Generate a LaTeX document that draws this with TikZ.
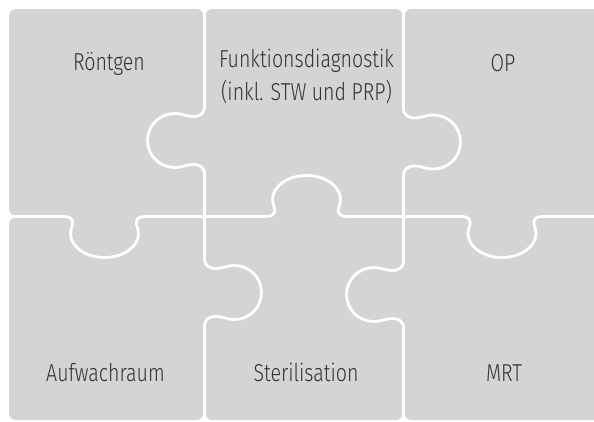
\documentclass[tikz,border=0pt]{standalone}
\usepackage{fontspec}
\IfFontExistsTF{Fira Sans Light}
  {\setmainfont{Fira Sans Light}[FakeStretch=0.8]}
  {\setmainfont{Fira Sans}[FakeStretch=0.8]}
\definecolor{piecegray}{RGB}{211,212,214}
\definecolor{textgray}{RGB}{50,50,53}
\tikzset{
  cut/.style={draw=white, line width=2.8pt, line cap=round, line join=round},
  piecetext/.style={anchor=base, inner sep=0pt, text=textgray, font=\fontsize{24.5}{33}\selectfont},
  % knob on a horizontal seam, bulging to +y
  htab/.pic={
    \draw[cut] (-40,0) coordinate (-a)
      .. controls (-34,0) and (-31,3) .. (-32,8)
      .. controls (-33,11) and (-34,14) .. (-34,17)
      .. controls (-34,30) and (-19,41) .. (0,41)
      .. controls (19,41) and (34,30) .. (34,17)
      .. controls (34,14) and (33,11) .. (32,8)
      .. controls (31,3) and (34,0) .. (40,0) coordinate (-b);
  },
  % knob on a vertical seam (rotated when placed)
  vtab/.pic={
    \draw[cut] (-34,0) coordinate (-a)
      .. controls (-27,0) and (-24,4) .. (-24,12)
      .. controls (-24,18) and (-27,22) .. (-27,30)
      .. controls (-27,44.9) and (-14.9,57) .. (0,57)
      .. controls (14.9,57) and (27,44.9) .. (27,30)
      .. controls (27,22) and (24,18) .. (24,12)
      .. controls (24,4) and (27,0) .. (34,0) coordinate (-b);
  },
  % rounded piece corners where a seam meets the outer edge
  notch/.pic={
    \fill[white] (-7.3,-2) -- (-7.3,0)
      .. controls (-4,0) and (-1.3,2.7) .. (-1.3,6) -- (1.3,6)
      .. controls (1.3,2.7) and (4,0) .. (7.3,0) -- (7.3,-2) -- cycle;
  }
}

\begin{document}
\begin{tikzpicture}[x=1pt, y=-1pt]
    \useasboundingbox (0,0) rectangle (594,421);
    \clip (0,0) rectangle (594,421);

    % all six pieces
    \fill[piecegray, rounded corners=7pt] (9,9) rectangle (600,420);

    % horizontal seam
    \pic (t3) at (104.5,216.5) {htab};
    \pic[rotate=180] (t4) at (306.5,216.5) {htab};
    \pic (t5) at (502,216.5) {htab};
    \draw[cut] (9,216.5) -- (t3-a);
    \draw[cut] (t3-b) -- (t4-b);
    \draw[cut] (t4-a) -- (t5-a);
    \draw[cut] (t5-b) -- (600,216.5);

    % left vertical seam
    \pic[rotate=-90] (t1) at (204.5,140.5) {vtab};
    \pic[rotate=90] (t6) at (204.5,292.5) {vtab};
    \draw[cut] (204.5,9) -- (t1-a);
    \draw[cut] (t1-b) -- (t6-b);
    \draw[cut] (t6-a) -- (204.5,420);

    % right vertical seam
    \pic[rotate=90] (t2) at (403.5,142) {vtab};
    \pic[rotate=-90] (t7) at (403.5,294.5) {vtab};
    \draw[cut] (403.5,9) -- (t2-b);
    \draw[cut] (t2-a) -- (t7-a);
    \draw[cut] (t7-b) -- (403.5,420);

    % corners at the outer edge
    \pic at (204.5,9) {notch};
    \pic at (403.5,9) {notch};
    \pic[rotate=180] at (204.5,420) {notch};
    \pic[rotate=180] at (403.5,420) {notch};
    \pic[rotate=90] at (9,216.5) {notch};

    % labels
    \node[piecetext] (rontgen) at (109,70.7) {Röntgen};
    \node[piecetext, align=center] (funktion) at (306.5,100.7) {Funktionsdiagnostik\\(inkl. STW und PRP)};
    \node[piecetext] (op) at (503,71) {OP};
    \node[piecetext] (aufwach) at (105.5,381) {Aufwachraum};
    \node[piecetext] (steril) at (306,381.7) {Sterilisation};
    \node[piecetext] (mrt) at (504,381.7) {MRT};
\end{tikzpicture}
\end{document}
